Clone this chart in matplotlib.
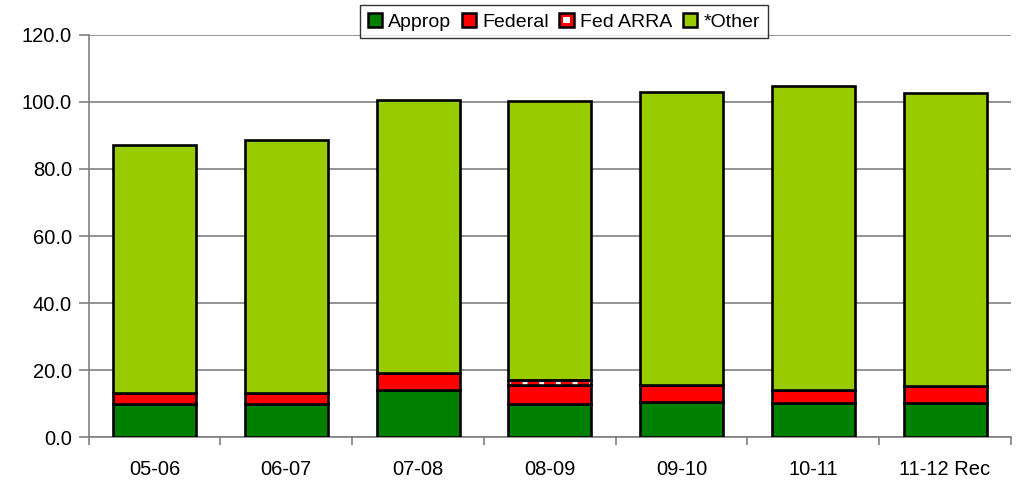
import numpy as np
import matplotlib.pyplot as plt
from matplotlib.patches import Patch, Rectangle
from matplotlib.legend_handler import HandlerBase

plt.rcParams['font.family'] = ['Liberation Sans', 'DejaVu Sans']
plt.rcParams['hatch.linewidth'] = 3.5

years = ['05-06', '06-07', '07-08', '08-09', '09-10', '10-11', '11-12 Rec']
approp = [10.0, 9.8, 14.2, 10.0, 10.5, 10.2, 10.2]
federal = [3.1, 3.3, 5.1, 5.5, 5.2, 3.8, 5.1]
fed_arra = [0.0, 0.0, 0.0, 1.6, 0.0, 0.0, 0.0]
other = [74.1, 75.6, 81.3, 83.2, 87.3, 90.8, 87.4]

c_approp = '#008000'
c_fed = '#ff0000'
c_other = '#99cc00'


class ArraHandler(HandlerBase):
    # red square with a white centre, as in the original legend
    def create_artists(self, legend, orig_handle, xdescent, ydescent,
                       width, height, fontsize, trans):
        outer = Rectangle((-xdescent, -ydescent), width, height, facecolor=c_fed,
                          edgecolor='black', linewidth=1.8, transform=trans)
        iw, ih = width * 0.45, height * 0.45
        inner = Rectangle((-xdescent + (width - iw) / 2, -ydescent + (height - ih) / 2),
                          iw, ih, facecolor='white', edgecolor='none', transform=trans)
        return [outer, inner]


fig = plt.figure(figsize=(10.16, 4.86), dpi=100)
ax = fig.add_axes([0.0873, 0.1002, 0.9077, 0.8284])

x = np.arange(len(years))
w = 0.63
lw = 1.9

b1 = np.array(approp)
b2 = b1 + np.array(federal)
b3 = b2 + np.array(fed_arra)

ax.bar(x, approp, w, color=c_approp, edgecolor='black', linewidth=lw, zorder=3)
ax.bar(x, federal, w, bottom=b1, color=c_fed, edgecolor='black', linewidth=lw, zorder=3)
# ARRA: red/white stripes, then black outline on top
arra_x = [i for i in x if fed_arra[i] > 0]
arra_v = [fed_arra[i] for i in arra_x]
arra_b = [b2[i] for i in arra_x]
ax.bar(arra_x, arra_v, w, bottom=arra_b, color=c_fed, edgecolor='white',
       hatch='|', linewidth=0, zorder=3)
ax.bar(arra_x, arra_v, w, bottom=arra_b, fill=False, edgecolor='black',
       linewidth=lw, zorder=4)
ax.bar(x, other, w, bottom=b3, color=c_other, edgecolor='black', linewidth=lw, zorder=3)

ax.set_xlim(-0.5, len(years) - 0.5)
ax.set_ylim(0, 120)
ax.set_yticks(np.arange(0, 121, 20))
ax.set_yticklabels([f'{v:.1f}' for v in np.arange(0, 121, 20)])
ax.set_xticks(x)
ax.set_xticklabels(years)
ax.set_xticks(np.arange(-0.5, len(years), 1), minor=True)
ax.tick_params(axis='x', which='major', length=0, pad=16, labelsize=14.5)
ax.tick_params(axis='x', which='minor', length=6, color='#808080', width=1.2)
ax.tick_params(axis='y', length=7, color='#808080', width=1.2, labelsize=14.5, pad=5)

ax.yaxis.grid(True, color='#808080', linewidth=1.2, zorder=0)
ax.set_axisbelow(True)
for s in ['top', 'right']:
    ax.spines[s].set_visible(False)
for s in ['left', 'bottom']:
    ax.spines[s].set_color('#808080')
    ax.spines[s].set_linewidth(1.2)

arra_handle = Patch(label='Fed ARRA')
handles = [
    Patch(facecolor=c_approp, edgecolor='black', linewidth=1.8, label='Approp'),
    Patch(facecolor=c_fed, edgecolor='black', linewidth=1.8, label='Federal'),
    arra_handle,
    Patch(facecolor=c_other, edgecolor='black', linewidth=1.8, label='*Other'),
]
leg = ax.legend(handles=handles, loc='upper center', bbox_to_anchor=(0.515, 1.074),
                ncol=4, frameon=True, fancybox=False, fontsize=14,
                handlelength=0.75, handleheight=0.75, handletextpad=0.3,
                columnspacing=0.55, borderpad=0.4, borderaxespad=0,
                handler_map={arra_handle: ArraHandler()})
leg.get_frame().set_edgecolor('black')
leg.get_frame().set_linewidth(1.0)
leg.set_zorder(10)

fig.savefig('out.png', dpi=100)
